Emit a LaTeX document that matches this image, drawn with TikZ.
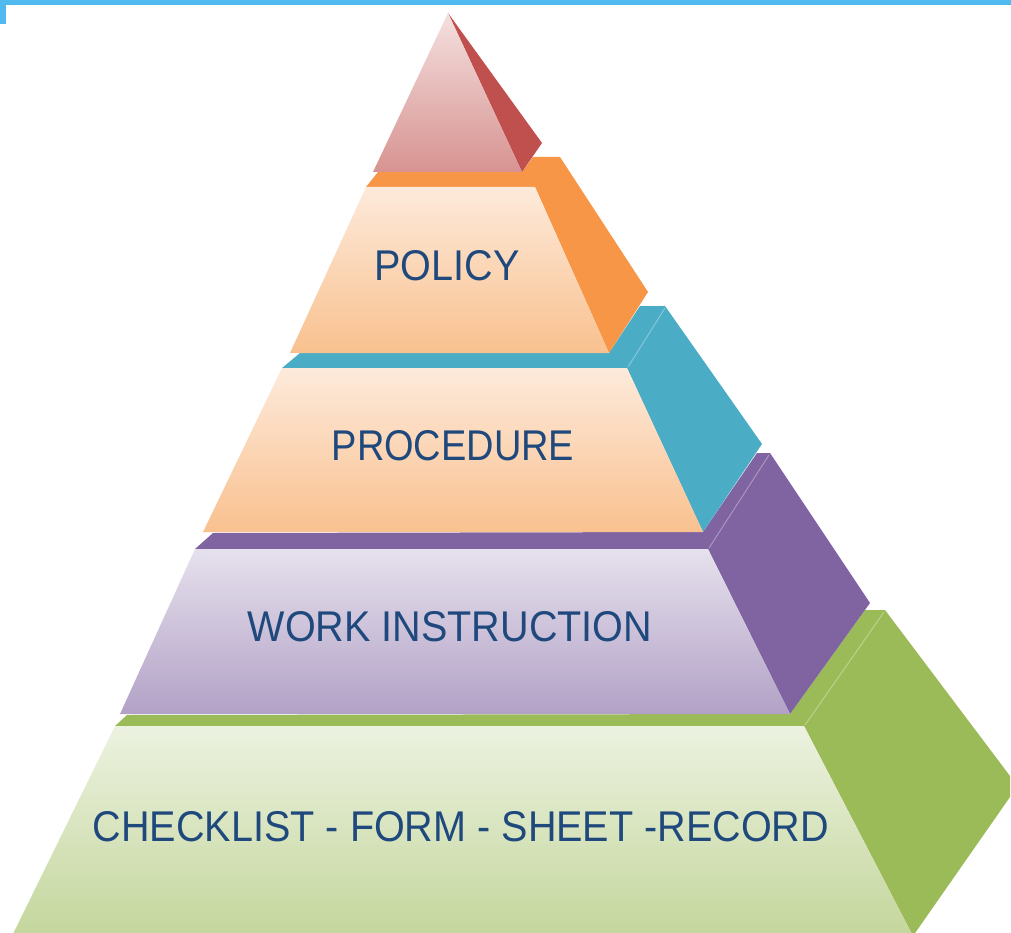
\documentclass[tikz,border=0pt]{standalone}
\usepackage{fontspec}
\newfontfamily\lblfont[FakeStretch=0.92]{Liberation Sans}
% side faces
\definecolor{redside}{HTML}{C0504D}
\definecolor{orside}{HTML}{F79646}
\definecolor{bluside}{HTML}{4BACC6}
\definecolor{purside}{HTML}{8064A2}
\definecolor{grnside}{HTML}{9BBB59}
% front faces (top / bottom of the gradient)
\definecolor{redtop}{HTML}{F4E0DF}
\definecolor{redbot}{HTML}{D79391}
\definecolor{pchtop}{HTML}{FDEADB}
\definecolor{pchbot}{HTML}{F9C18F}
\definecolor{purtop}{HTML}{E6E1ED}
\definecolor{purbot}{HTML}{B2A1C6}
\definecolor{grntop}{HTML}{ECF2E0}
\definecolor{grnbot}{HTML}{C4D69C}
\definecolor{txtblue}{HTML}{1F497D}
\definecolor{framebl}{HTML}{4FB9F0}
\begin{document}
\begin{tikzpicture}[x=1pt,y=-1pt,
  tierlabel/.style={font=\lblfont\fontsize{43}{43}\selectfont, text=txtblue, inner sep=0pt},
  ridge/.style={line width=0.9pt, draw=#1!65!white},
  front/.style 2 args={top color=#1, bottom color=#2}
]
\useasboundingbox (0,0) rectangle (1011,933);
\clip (0,0) rectangle (1011,933);

% frame corner
\fill[framebl] (0,0) rectangle (1011,5);
\fill[framebl] (0,0) rectangle (6,24);

% base tier: records
\fill[grnside] (127,715) -- (790,714) -- (865,610) -- (885,610) -- (1010,776)
  -- (1010,797) -- (913,936) -- (804,726) -- (115,726) -- cycle;
\shade[front={grntop}{grnbot}] (115,726) -- (804,726) -- (913,936) -- (12,936) -- cycle;
\draw[ridge=grnside] (884,612) -- (805,725);

% work instruction tier
\fill[purside] (213,533) -- (703,532) -- (757,453) -- (770,453) -- (870,603)
  -- (790,714) -- (708,549) -- (195,549) -- cycle;
\shade[front={purtop}{purbot}] (195,549) -- (708,549) -- (790,714) -- (120,714) -- cycle;
\draw[ridge=purside] (769,455) -- (709,548);

% procedure tier
\fill[bluside] (300,353) -- (609,353) -- (640,306) -- (665,306) -- (762,444)
  -- (703,532) -- (627,368) -- (282,368) -- cycle;
\shade[front={pchtop}{pchbot}] (282,368) -- (627,368) -- (703,532) -- (203,532) -- cycle;
\draw[ridge=bluside] (665,308) -- (628,367);

% policy tier
\fill[orside] (378,172) -- (522,172) -- (533,157) -- (560,157) -- (648,292)
  -- (609,353) -- (535,187) -- (366,187) -- cycle;
\shade[front={pchtop}{pchbot}] (366,187) -- (535,187) -- (609,353) -- (290,353) -- cycle;

% apex
\fill[redside] (448,13) -- (542,143) -- (522,172) -- cycle;
\shade[front={redtop}{redbot}] (448,13) -- (522,172) -- (373,172) -- cycle;

% tier labels
\node[tierlabel] (policy) at (447,266) {POLICY};
\node[tierlabel] (procedure) at (453,446) {\scalebox{0.96}[1]{PROCEDURE}};
\node[tierlabel] (workinstr) at (450,627) {WORK INSTRUCTION};
\node[tierlabel] (records) at (461,827) {CHECKLIST - FORM - SHEET -RECORD};
\end{tikzpicture}
\end{document}
